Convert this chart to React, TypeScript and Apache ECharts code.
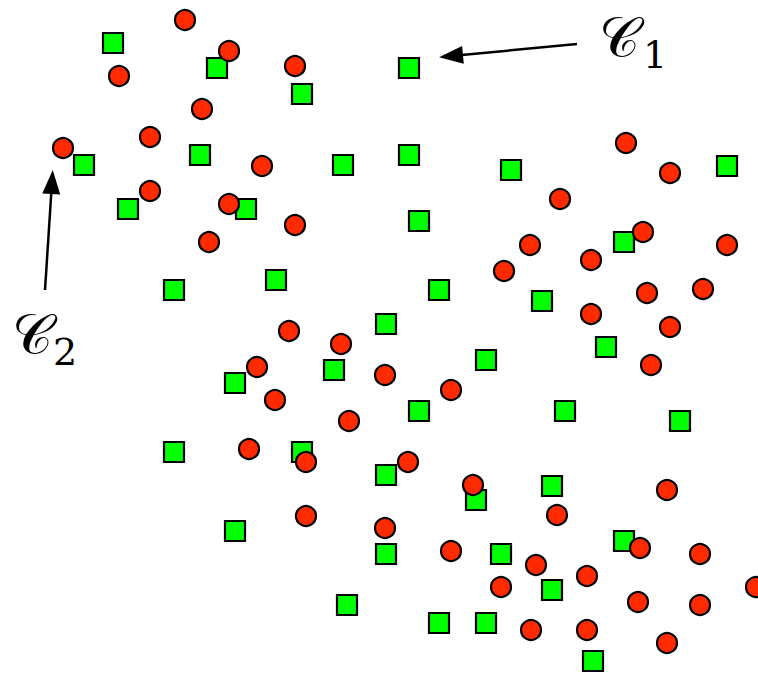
import React, { useEffect, useRef } from "react";
import * as echarts from "echarts";

const redPoints: [number, number][] = [
  [185, 20], [229, 51], [119, 76], [295, 66], [202, 109], [150, 137], [63, 148],
  [262, 166], [150, 191], [229, 204], [295, 225], [209, 242], [289, 331], [341, 344],
  [626, 143], [670, 173], [560, 199], [530, 245], [591, 260], [643, 232], [727, 245],
  [504, 271], [703, 289], [647, 293], [591, 314], [670, 327], [257, 367], [275, 400],
  [349, 421], [249, 449], [306, 462], [306, 516], [651, 365], [385, 375], [451, 390],
  [408, 462], [473, 485], [667, 490], [557, 515], [385, 528], [640, 548], [700, 554],
  [451, 551], [536, 565], [587, 576], [501, 587], [756, 587], [638, 602], [700, 605],
  [531, 630], [587, 630], [667, 643],
];

const greenPoints: [number, number][] = [
  [113, 43], [217, 68], [302, 94], [200, 155], [84, 165], [343, 165], [128, 209],
  [246, 209], [276, 280], [174, 290], [409, 68], [409, 155], [511, 170], [727, 166],
  [419, 221], [624, 242], [439, 290], [542, 301], [386, 324], [606, 347], [235, 383],
  [334, 370], [174, 452], [302, 452], [235, 531], [347, 605], [386, 475], [386, 554],
  [486, 360], [419, 411], [565, 411], [680, 421], [552, 486], [476, 500], [624, 541],
  [501, 554], [552, 590], [439, 623], [486, 623], [593, 661],
];

const arrowC1: [number, number][] = [[577, 44], [451, 56]];
const arrowC2: [number, number][] = [[45, 290], [52, 182]];

const labelMain = "𝒞";
const labelSubs = ["1", "2"];

export default function App() {
  const ref = useRef<HTMLDivElement>(null);
  useEffect(() => {
    document.body.style.margin = "0";
    const chart = echarts.init(ref.current!, null, { renderer: "svg" });
    const arrowLine = (pts: [number, number][]) => [
      { coord: pts[0], symbol: "none" },
      { coord: pts[1], symbol: "triangle", symbolSize: [18, 24] },
    ];
    chart.setOption({
      animation: false,
      backgroundColor: "#ffffff",
      grid: { left: 0, right: 0, top: 0, bottom: 0 },
      xAxis: { type: "value", min: 0, max: 758, show: false },
      yAxis: { type: "value", min: 0, max: 674, inverse: true, show: false },
      series: [
        {
          type: "scatter",
          symbol: "rect",
          symbolSize: 20,
          data: greenPoints,
          itemStyle: { color: "#00ff00", borderColor: "#000000", borderWidth: 2.2, opacity: 1 },
          markLine: {
            silent: true,
            symbol: ["none", "triangle"],
            label: { show: false },
            lineStyle: { color: "#000000", width: 2.5, type: "solid" },
            data: [arrowLine(arrowC1), arrowLine(arrowC2)],
          },
        },
        {
          type: "scatter",
          symbol: "circle",
          symbolSize: 20,
          data: redPoints,
          itemStyle: { color: "#ff2a00", borderColor: "#000000", borderWidth: 2.2, opacity: 1 },
        },
      ],
      graphic: [
        { type: "text", x: 599, y: 9, style: { text: labelMain, font: "56px 'DejaVu Serif', serif", fill: "#000" } },
        { type: "text", x: 643, y: 36, style: { text: labelSubs[0], font: "38px 'DejaVu Serif', serif", fill: "#000" } },
        { type: "text", x: 12, y: 306, style: { text: labelMain, font: "56px 'DejaVu Serif', serif", fill: "#000" } },
        { type: "text", x: 53, y: 333, style: { text: labelSubs[1], font: "38px 'DejaVu Serif', serif", fill: "#000" } },
      ],
    });
    return () => chart.dispose();
  }, []);
  return <div ref={ref} style={{ width: 758, height: 674 }} />;
}
